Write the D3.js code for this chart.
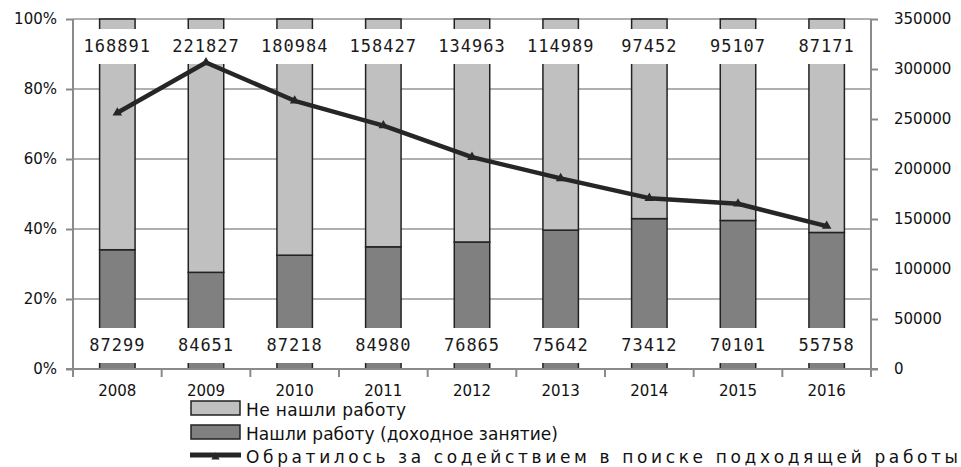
<!DOCTYPE html>
<html>
<head>
<meta charset="utf-8">
<script src="https://cdn.jsdelivr.net/npm/d3@7"></script>
<style>
  body { margin: 0; background: #fff; }
  svg { display: block; }
  .axis path, .axis line { stroke: #8a8a8a; stroke-width: 2px; }
  .axis text { font-family: "DejaVu Sans", sans-serif; font-size: 15px; fill: #111; }
</style>
</head>
<body>
<svg id="chart" width="961" height="467"></svg>
<script>
const years = ["2008", "2009", "2010", "2011", "2012", "2013", "2014", "2015", "2016"];
const notFound = [168891, 221827, 180984, 158427, 134963, 114989, 97452, 95107, 87171];
const found = [87299, 84651, 87218, 84980, 76865, 75642, 73412, 70101, 55758];
const applied = [256190, 306478, 268202, 243407, 211828, 190631, 170864, 165208, 142929];
const pctTicks = [0, 0.2, 0.4, 0.6, 0.8, 1];
const countTicks = [0, 50000, 100000, 150000, 200000, 250000, 300000, 350000];
const legendNames = ["Не нашли работу", "Нашли работу (доходное занятие)", "Обратилось за содействием в поиске подходящей работы"];

const svg = d3.select("#chart");
const margin = { top: 19, right: 90, bottom: 98, left: 73 };
const width = 961 - margin.left - margin.right;
const height = 467 - margin.top - margin.bottom;

const x = d3.scaleBand().domain(years).range([0, width]).paddingInner(0.6).paddingOuter(0.3);
const xEdge = d3.scaleLinear().domain([0, years.length]).range([0, width]);
const y = d3.scaleLinear().domain([0, 1]).range([height, 0]);
const y2 = d3.scaleLinear().domain([0, 350000]).range([height, 0]);

const g = svg.append("g").attr("transform", `translate(${margin.left},${margin.top})`);

// gridlines
g.append("g").selectAll("line").data(pctTicks.slice(1)).join("line")
  .attr("x1", 0).attr("x2", width)
  .attr("y1", d => y(d)).attr("y2", d => y(d))
  .attr("stroke", "#959595").attr("stroke-width", 1.5);

// stacked bars
const rows = years.map((yr, i) => ({ year: yr, found: found[i], notFound: notFound[i] }));
const stack = d3.stack().keys(["found", "notFound"]).offset(d3.stackOffsetExpand);
const colours = { found: "#808080", notFound: "#c0c0c0" };

g.append("g").selectAll("g").data(stack(rows)).join("g")
  .attr("fill", d => colours[d.key])
  .selectAll("rect").data(d => d).join("rect")
  .attr("x", d => x(d.data.year))
  .attr("width", x.bandwidth())
  .attr("y", d => y(d[1]))
  .attr("height", d => y(d[0]) - y(d[1]))
  .attr("stroke", "#222").attr("stroke-width", 1.5);

// data labels with white backgrounds
const labelFont = "\"DejaVu Sans Mono\", monospace";
function addLabels(values, cy) {
  const lg = g.append("g");
  values.forEach((v, i) => {
    const cx = x(years[i]) + x.bandwidth() / 2;
    lg.append("rect")
      .attr("x", cx - 40).attr("width", 80)
      .attr("y", cy - 17).attr("height", 35)
      .attr("fill", "#fff");
    lg.append("text")
      .attr("x", cx).attr("y", cy)
      .attr("text-anchor", "middle").attr("dominant-baseline", "central")
      .attr("font-family", labelFont).attr("font-size", 17)
      .attr("letter-spacing", 1).attr("fill", "#1a1a1a")
      .text(v);
  });
}
addLabels(notFound, y(1) + 27);
addLabels(found, y(0) - 24);

// axes
const leftAxis = g.append("g").attr("class", "axis")
  .call(d3.axisLeft(y).tickValues(pctTicks).tickFormat(d3.format(".0%")).tickSize(7).tickPadding(9));
leftAxis.select(".domain").attr("d", `M0,${height}V0`);

const rightAxis = g.append("g").attr("class", "axis").attr("transform", `translate(${width},0)`)
  .call(d3.axisRight(y2).tickValues(countTicks).tickFormat(d3.format("d")).tickSize(7).tickPadding(16));
rightAxis.select(".domain").attr("d", `M0,${height}V0`);

const bottom = g.append("g").attr("class", "axis").attr("transform", `translate(0,${height})`);
bottom.append("line").attr("x1", -7).attr("x2", width + 7).attr("y1", 0).attr("y2", 0);
bottom.selectAll(".edge").data(d3.range(years.length + 1)).join("line").attr("class", "edge")
  .attr("x1", d => xEdge(d)).attr("x2", d => xEdge(d)).attr("y1", 0).attr("y2", 8);
bottom.selectAll("text").data(years).join("text")
  .attr("x", d => x(d) + x.bandwidth() / 2).attr("y", 27)
  .attr("text-anchor", "middle").text(d => d);

// line series
const line = d3.line()
  .x((d, i) => x(years[i]) + x.bandwidth() / 2)
  .y(d => y2(d));
g.append("path").datum(applied)
  .attr("fill", "none").attr("stroke", "#262626").attr("stroke-width", 4.5)
  .attr("stroke-linejoin", "round").attr("d", line);
g.append("g").selectAll("path").data(applied).join("path")
  .attr("transform", (d, i) => `translate(${x(years[i]) + x.bandwidth() / 2},${y2(d)})`)
  .attr("d", d3.symbol(d3.symbolTriangle, 40))
  .attr("fill", "#262626");

// legend
const legend = svg.append("g").attr("transform", "translate(190,400)");
const legendFont = "\"DejaVu Sans\", sans-serif";
const legendLen = [160, 312, 712];
[0, 1].forEach(i => {
  legend.append("rect")
    .attr("x", 1).attr("y", i * 24 + 1).attr("width", 49).attr("height", 14)
    .attr("fill", i === 0 ? colours.notFound : colours.found)
    .attr("stroke", "#222").attr("stroke-width", 1.5);
});
legend.append("line").attr("x1", 0).attr("x2", 51).attr("y1", 55).attr("y2", 55)
  .attr("stroke", "#262626").attr("stroke-width", 5);
legend.append("path").attr("transform", "translate(25.5,57)")
  .attr("d", d3.symbol(d3.symbolTriangle, 30)).attr("fill", "#262626");
legendNames.forEach((name, i) => {
  legend.append("text")
    .attr("x", 56).attr("y", 10 + i * 23.5)
    .attr("dominant-baseline", "central")
    .attr("font-family", legendFont).attr("font-size", 17).attr("fill", "#111")
    .attr("textLength", legendLen[i]).attr("lengthAdjust", "spacing")
    .text(name);
});
</script>
</body>
</html>
